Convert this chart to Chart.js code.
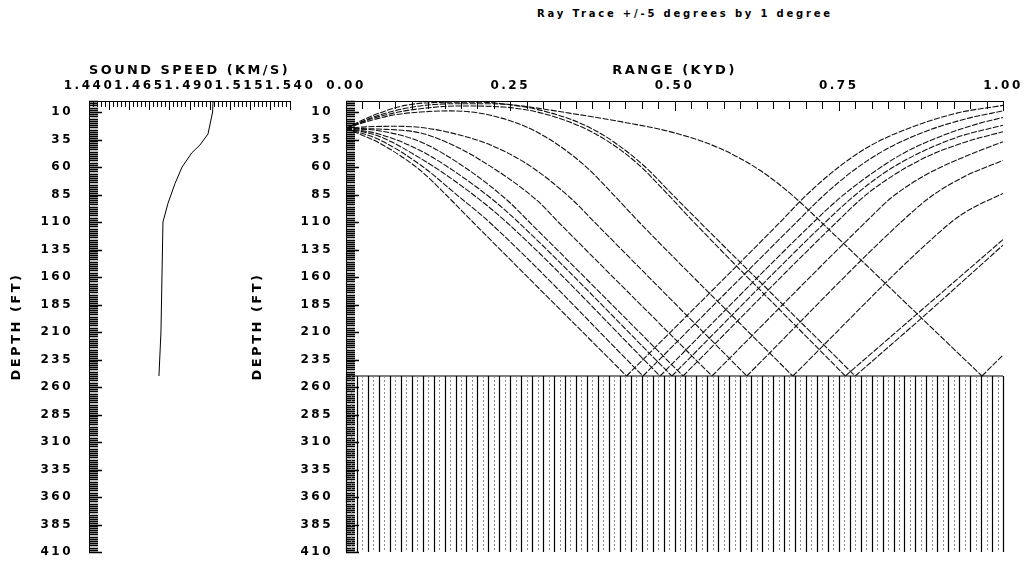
<!DOCTYPE html>
<html>
<head>
<meta charset="utf-8">
<title>Ray Trace</title>
<script src="https://cdn.jsdelivr.net/npm/chart.js@4.4.0/dist/chart.umd.min.js"></script>
<style>
  html, body { margin: 0; padding: 0; background: #fff; }
  body { width: 1026px; height: 564px; position: relative; overflow: hidden; }
  canvas { position: absolute; top: 0; }
  #speedChart { left: 0; }
  #rayChart { left: 240px; }
  #title {
    position: absolute; top: 8px; left: 340px; width: 690px;
    text-align: center; font: bold 10px "DejaVu Sans"; letter-spacing: 2.8px; color: #000;
  }
</style>
</head>
<body>
<div id="title">Ray Trace +/-5 degrees by 1 degree</div>
<canvas id="speedChart" width="330" height="564"></canvas>
<canvas id="rayChart" width="786" height="564"></canvas>
<script>
// Axis ticks
const depthTicks = [10, 35, 60, 85, 110, 135, 160, 185, 210, 235, 260, 285, 310, 335, 360, 385, 410];
const speedTicks = [1.440, 1.465, 1.490, 1.515, 1.540];
const rangeTicks = [0, 0.25, 0.5, 0.75, 1.0];

// Sound speed profile (km/s vs ft)
const profileDepth = [0, 10, 30, 40, 47, 60, 75, 93, 110, 160, 210, 250];
const profileSpeed = [1.5017, 1.5015, 1.4992, 1.4952, 1.4912, 1.4863, 1.4828, 1.4793, 1.4768, 1.4763, 1.4758, 1.4748];

const sourceDepth = 25;
const bottomDepth = 250;

// Ray paths [range kyd, depth ft], launch angle +5 .. -5 degrees
const rayP5 = [[0, 25], [0.05, 38], [0.113, 63], [0.15, 84], [0.193, 110], [0.427, 250],
  [0.661, 110], [0.70, 86], [0.75, 60], [0.80, 40], [0.86, 24], [0.93, 11], [1.0, 4]];
const rayP4 = [[0, 25], [0.05, 35], [0.113, 58], [0.17, 86], [0.218, 110], [0.452, 250],
  [0.686, 110], [0.725, 87], [0.775, 62], [0.825, 43], [0.885, 27], [0.945, 16], [1.0, 9]];
const rayP3 = [[0, 25], [0.05, 32], [0.113, 52], [0.18, 79], [0.244, 110], [0.478, 250],
  [0.712, 110], [0.75, 89], [0.80, 66], [0.85, 47], [0.91, 31], [0.96, 21], [1.0, 15]];
const rayP2 = [[0, 25], [0.05, 30], [0.113, 45], [0.17, 66], [0.224, 90], [0.262, 110], [0.496, 250],
  [0.730, 110], [0.77, 88], [0.82, 65], [0.87, 48], [0.93, 33], [1.0, 22]];
const rayP1 = [[0, 25], [0.05, 27], [0.113, 37], [0.18, 60], [0.245, 90], [0.279, 110], [0.513, 250],
  [0.747, 110], [0.79, 86], [0.84, 65], [0.89, 49], [0.95, 36], [1.0, 28]];
const ray0 = [[0, 25], [0.05, 25.5], [0.113, 29], [0.155, 38], [0.2, 52], [0.29, 90], [0.323, 110], [0.557, 250],
  [0.791, 110], [0.83, 88], [0.88, 68], [0.94, 51], [1.0, 37]];
const rayM1 = [[0, 25], [0.03, 23.5], [0.07, 23], [0.113, 24], [0.16, 29], [0.22, 40], [0.28, 59], [0.345, 90],
  [0.378, 110], [0.610, 250], [0.845, 110], [0.89, 87], [0.94, 69], [1.0, 54]];
const rayM2 = [[0, 25], [0.03, 19], [0.07, 13], [0.113, 10], [0.16, 9], [0.22, 13], [0.29, 28], [0.36, 57],
  [0.41, 87], [0.446, 110], [0.680, 250], [0.90, 121], [0.94, 102], [1.0, 84]];
const rayM3 = [[0, 25], [0.04, 16], [0.08, 10], [0.113, 7], [0.17, 4.5], [0.24, 5.5], [0.31, 13], [0.38, 30],
  [0.44, 55], [0.49, 85], [0.526, 108], [0.760, 250], [0.88, 188], [1.0, 126]];
const rayM4 = [[0, 25], [0.04, 15], [0.08, 8], [0.113, 4.5], [0.16, 2.5], [0.22, 2.5], [0.30, 9], [0.38, 27],
  [0.45, 57], [0.50, 87], [0.54, 111], [0.775, 250], [0.89, 190], [1.0, 131]];
const rayM5 = [[0, 25], [0.03, 16], [0.06, 9], [0.09, 4], [0.13, 1.5], [0.2, 1], [0.26, 4], [0.34, 11],
  [0.42, 19], [0.50, 29], [0.569, 43], [0.63, 63], [0.68, 86], [0.73, 114], [0.968, 250], [1.0, 231]];

const rays = [rayP5, rayP4, rayP3, rayP2, rayP1, ray0, rayM1, rayM2, rayM3, rayM4, rayM5];

Chart.defaults.font.family = '"DejaVu Sans", sans-serif';
Chart.defaults.font.size = 12;
Chart.defaults.font.weight = 'bold';
Chart.defaults.color = '#000';

// wide lettering like the plotter font
const spacing = {
  id: 'spacing',
  beforeLayout(chart) { chart.ctx.letterSpacing = '2.5px'; },
  beforeDraw(chart) { chart.ctx.letterSpacing = '2.5px'; }
};

// ruler ticks along the left and top borders
const ruler = {
  id: 'ruler',
  afterDatasetsDraw(chart, args, o) {
    const {ctx, chartArea: a, scales: {x, y}} = chart;
    ctx.save();
    ctx.strokeStyle = '#000';
    ctx.lineWidth = 1.3;
    ctx.beginPath();
    for (let d = 0; d <= y.max; d += o.yStep) {
      const py = Math.round(y.getPixelForValue(d)) + 0.5;
      ctx.moveTo(a.left, py);
      ctx.lineTo(a.left + o.yLen, py);
    }
    depthTicks.forEach(d => {
      const py = Math.round(y.getPixelForValue(d)) + 0.5;
      ctx.moveTo(a.left, py);
      ctx.lineTo(a.left + o.yMajor, py);
    });
    ctx.stroke();
    ctx.lineWidth = 1;
    ctx.beginPath();
    const n = Math.round((x.max - x.min) / o.xStep);
    for (let i = 0; i <= n; i++) {
      const px = Math.round(x.getPixelForValue(x.min + i * o.xStep)) + 0.5;
      ctx.moveTo(px, a.top);
      ctx.lineTo(px, a.top + (i % o.xMajorEvery === 0 ? o.xMajor : o.xLen));
    }
    ctx.stroke();
    ctx.restore();
  }
};

// hatching below the sea floor
const seabed = {
  id: 'seabed',
  afterDatasetsDraw(chart, args, o) {
    if (!o.count) return;
    const {ctx, scales: {x, y}} = chart;
    const top = y.getPixelForValue(bottomDepth);
    const bot = y.getPixelForValue(y.max);
    ctx.save();
    ctx.lineWidth = 1.2;
    ctx.strokeStyle = '#000';
    ctx.beginPath();
    for (let i = 0; i <= o.count; i++) {
      const px = Math.round(x.getPixelForValue(i / o.count)) + 0.5;
      ctx.moveTo(px, top);
      ctx.lineTo(px, bot);
    }
    ctx.stroke();
    ctx.lineWidth = 1;
    ctx.strokeStyle = '#8a8a8a';
    ctx.setLineDash([2, 2]);
    ctx.beginPath();
    for (let i = 0; i < o.count; i++) {
      const px = Math.round(x.getPixelForValue((i + 0.5) / o.count)) + 0.5;
      ctx.moveTo(px, top);
      ctx.lineTo(px, bot);
    }
    ctx.stroke();
    ctx.restore();
  }
};

function noPad(s) {
  s.paddingLeft = 0;
  s.paddingRight = 0;
  s.paddingTop = 0;
  s.paddingBottom = 0;
}

function depthAxis(width, tickPad, titlePad) {
  return {
    type: 'linear',
    position: 'left',
    min: 0,
    max: 410,
    reverse: true,
    afterFit: s => { s.width = width; noPad(s); },
    afterBuildTicks: s => { s.ticks = depthTicks.map(v => ({value: v})); },
    grid: {display: false, drawTicks: false},
    border: {display: true, color: '#000', width: 1},
    ticks: {padding: tickPad, callback: v => String(v)},
    title: {display: true, text: 'DEPTH (FT)', font: {size: 13}, padding: {top: titlePad, bottom: 0}}
  };
}

function topAxis(min, max, tickVals, digits, title) {
  return {
    type: 'linear',
    position: 'top',
    min: min,
    max: max,
    afterFit: s => { s.height = 101; noPad(s); },
    afterBuildTicks: s => { s.ticks = tickVals.map(v => ({value: v})); },
    grid: {display: false, drawTicks: false},
    border: {display: true, color: '#000', width: 1},
    ticks: {padding: 8, maxRotation: 0, autoSkip: false, callback: v => v.toFixed(digits)},
    title: {display: true, text: title, font: {size: 13}, padding: {top: 63, bottom: 0}}
  };
}

// Sound speed panel
new Chart(document.getElementById('speedChart').getContext('2d'), {
  type: 'scatter',
  data: {
    datasets: [{
      data: profileDepth.map((d, i) => ({x: profileSpeed[i], y: d})),
      showLine: true,
      borderColor: '#000',
      borderWidth: 1,
      pointRadius: 0,
      tension: 0
    }]
  },
  options: {
    responsive: false,
    animation: false,
    devicePixelRatio: 1,
    layout: {padding: {left: 0, right: 40, top: 0, bottom: 12}},
    plugins: {
      legend: {display: false},
      tooltip: {enabled: false},
      ruler: {yStep: 2, yLen: 9, yMajor: 13, xStep: 0.002, xLen: 6, xMajor: 9, xMajorEvery: 5}
    },
    scales: {
      x: topAxis(1.44, 1.54, speedTicks, 3, 'SOUND SPEED (KM/S)'),
      y: depthAxis(89, 16, 9)
    }
  },
  plugins: [spacing, ruler]
});

// Ray trace panel
const rayDatasets = [];
rays.forEach(path => {
  const hit = path.findIndex(p => p[1] === bottomDepth);
  [path.slice(0, hit + 1), path.slice(hit)].forEach(part => {
    rayDatasets.push({
      data: part.map(([r, d]) => ({x: r, y: d})),
      showLine: true,
      borderColor: '#111',
      borderWidth: 1.1,
      borderDash: [6, 1.5],
      pointRadius: 0,
      cubicInterpolationMode: 'monotone'
    });
  });
});
rayDatasets.push({
  data: [{x: 0, y: bottomDepth}, {x: 1, y: bottomDepth}],
  showLine: true,
  borderColor: '#000',
  borderWidth: 1.2,
  pointRadius: 0
});

new Chart(document.getElementById('rayChart').getContext('2d'), {
  type: 'scatter',
  data: {datasets: rayDatasets},
  options: {
    responsive: false,
    animation: false,
    devicePixelRatio: 1,
    layout: {padding: {left: 0, right: 23, top: 0, bottom: 12}},
    plugins: {
      legend: {display: false},
      tooltip: {enabled: false},
      ruler: {yStep: 2, yLen: 9, yMajor: 13, xStep: 0.025, xLen: 8, xMajor: 10, xMajorEvery: 10},
      seabed: {count: 60}
    },
    scales: {
      x: topAxis(0, 1, rangeTicks, 2, 'RANGE (KYD)'),
      y: depthAxis(106, 13, 10)
    }
  },
  plugins: [spacing, ruler, seabed]
});
</script>
</body>
</html>
